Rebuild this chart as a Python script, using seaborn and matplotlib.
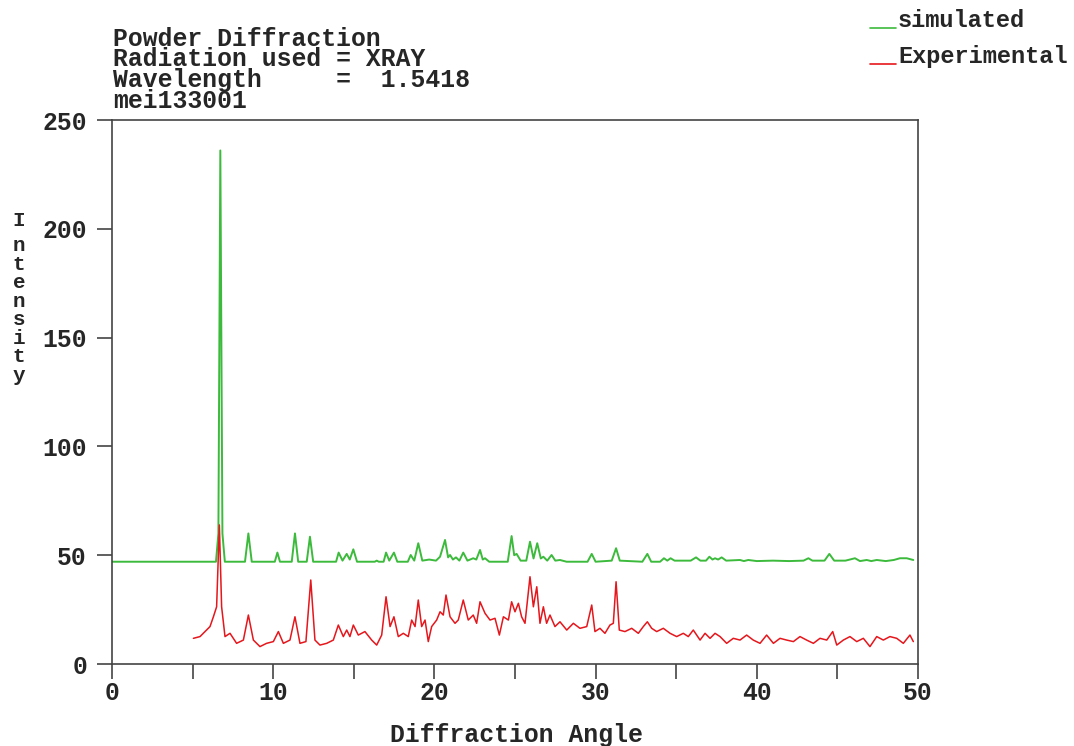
import matplotlib
matplotlib.use('Agg')
import matplotlib.pyplot as plt
from matplotlib.lines import Line2D
from matplotlib.ticker import MultipleLocator
import pandas as pd
import seaborn as sns

# simulated pattern (vertices)
sim_angle = [0.0, 6.45, 6.6, 6.72, 6.85, 7.0,
             8.25, 8.46, 8.67, 10.1, 10.26, 10.42,
             11.15, 11.35, 11.55, 12.08, 12.28, 12.48,
             13.9, 14.06, 14.3, 14.56, 14.75, 14.97, 15.2,
             16.3, 16.42, 16.55, 16.85, 17.0, 17.2, 17.49, 17.7,
             18.35, 18.53, 18.75, 19.0, 19.25, 19.68, 20.1, 20.35, 20.66, 20.85, 20.97,
             21.15, 21.34, 21.55, 21.79, 22.05, 22.41, 22.6, 22.83, 23.0, 23.14, 23.4,
             24.55, 24.79, 24.95, 25.1, 25.35, 25.7, 25.93, 26.15, 26.38, 26.6, 26.76,
             27.0, 27.27, 27.5, 27.79, 28.2,
             29.5, 29.76, 30.0, 31.0, 31.27, 31.5,
             32.9, 33.21, 33.45, 34.0, 34.24, 34.45, 34.65, 34.9,
             35.9, 36.23, 36.5, 36.85, 37.06, 37.25, 37.41, 37.6, 37.82, 38.1,
             38.96, 39.2, 39.47, 40.0, 41.0, 42.0, 42.9, 43.2, 43.45,
             44.2, 44.5, 44.8, 45.5, 46.09, 46.4, 46.82, 47.1, 47.44,
             48.0, 48.5, 48.88, 49.3, 49.71]
sim_intensity = [47.0, 47.0, 60.0, 236.0, 60.0, 47.0,
                 47.0, 60.0, 47.0, 47.0, 51.2, 47.0,
                 47.0, 60.0, 47.0, 47.0, 58.5, 47.0,
                 47.0, 51.2, 47.5, 50.6, 48.0, 52.7, 47.0,
                 47.0, 47.5, 47.0, 47.0, 51.2, 47.5, 51.2, 47.0,
                 47.0, 50.1, 47.5, 55.5, 47.5, 48.0, 47.5, 49.3, 57.0, 49.0, 50.1,
                 48.0, 49.0, 47.5, 51.2, 47.5, 48.6, 48.0, 52.4, 48.0, 48.6, 47.0,
                 47.0, 58.8, 50.0, 50.6, 47.5, 47.5, 56.2, 48.5, 55.5, 48.5, 49.3,
                 47.5, 50.1, 47.5, 47.8, 47.0,
                 47.0, 50.6, 47.0, 47.5, 53.2, 47.5,
                 47.0, 50.6, 47.0, 47.0, 48.6, 47.5, 48.6, 47.5,
                 47.5, 49.0, 47.5, 47.5, 49.3, 48.0, 48.6, 48.0, 49.0, 47.5,
                 47.8, 47.3, 47.8, 47.3, 47.5, 47.3, 47.5, 48.6, 47.5,
                 47.5, 50.6, 47.5, 47.5, 48.6, 47.3, 47.8, 47.3, 47.8,
                 47.3, 47.8, 48.6, 48.6, 47.8]

# experimental pattern
exp_angle = [5.05, 5.46, 5.77, 6.08, 6.29, 6.49, 6.66, 6.8, 7.01, 7.32, 7.73, 8.15,
             8.46, 8.77, 9.18, 9.59, 10.01, 10.32, 10.63, 11.04, 11.35, 11.66, 12.03,
             12.33, 12.59, 12.9, 13.32, 13.73, 14.04, 14.35, 14.56, 14.76, 14.97, 15.28,
             15.69, 16.11, 16.42, 16.73, 17.0, 17.25, 17.49, 17.76, 18.07, 18.38, 18.59,
             18.8, 19.0, 19.21, 19.42, 19.62, 19.83, 20.14, 20.35, 20.55, 20.72, 20.97,
             21.28, 21.48, 21.79, 22.1, 22.41, 22.62, 22.83, 23.14, 23.45, 23.76, 24.03,
             24.28, 24.59, 24.79, 25.0, 25.21, 25.41, 25.62, 25.93, 26.14, 26.35, 26.55,
             26.76, 26.96, 27.17, 27.48, 27.79, 28.21, 28.62, 29.03, 29.45, 29.76, 29.96,
             30.27, 30.58, 30.89, 31.1, 31.27, 31.47, 31.82, 32.24, 32.65, 32.96, 33.21,
             33.48, 33.79, 34.2, 34.62, 35.03, 35.44, 35.75, 36.06, 36.48, 36.79, 37.1,
             37.41, 37.72, 38.13, 38.54, 38.96, 39.37, 39.78, 40.2, 40.61, 41.03, 41.44,
             41.85, 42.27, 42.68, 43.09, 43.51, 43.92, 44.34, 44.71, 44.96, 45.37, 45.78,
             46.2, 46.61, 47.02, 47.44, 47.85, 48.26, 48.68, 49.09, 49.5, 49.71]
exp_intensity = [11.8, 12.6, 14.9, 17.2, 21.7, 26.3, 63.9, 26.3, 12.6, 14.1, 9.5, 11.0,
                 22.5, 11.0, 8.0, 9.5, 10.3, 14.9, 9.5, 11.0, 21.7, 9.5, 10.3,
                 38.6, 11.0, 8.7, 9.5, 11.0, 17.9, 12.6, 15.6, 12.6, 17.9, 13.3,
                 14.9, 11.0, 8.7, 13.3, 30.9, 17.2, 21.7, 12.6, 14.1, 12.6, 20.2,
                 17.2, 29.4, 17.2, 20.2, 10.3, 17.2, 20.2, 24.0, 22.5, 31.7, 21.7,
                 18.7, 20.2, 29.4, 20.2, 22.5, 18.7, 28.6, 23.3, 20.2, 21.0, 13.3,
                 21.7, 20.2, 28.6, 24.0, 27.9, 21.7, 18.7, 40.1, 26.3, 35.5, 18.7,
                 26.3, 18.7, 22.5, 17.2, 19.4, 15.6, 18.7, 16.4, 17.2, 27.1, 14.9,
                 16.4, 14.1, 17.9, 18.7, 37.8, 15.6, 14.9, 16.4, 14.1, 17.2, 19.4,
                 16.4, 14.9, 16.4, 14.1, 12.6, 14.1, 12.6, 15.6, 11.0, 14.1, 11.8,
                 14.1, 12.6, 9.5, 11.8, 11.0, 13.3, 11.0, 9.5, 13.3, 9.5, 11.8,
                 11.0, 10.3, 12.6, 11.0, 9.5, 11.8, 11.0, 14.9, 8.7, 11.0, 12.6,
                 10.3, 11.8, 8.0, 12.6, 11.0, 12.6, 11.8, 9.5, 13.3, 10.3]

header_lines = ['Powder Diffraction', 'Radiation used = XRAY',
                'Wavelength     =  1.5418', 'mei133001']
series_names = ['simulated', 'Experimental']
series_colors = ['#3cba3c', '#e5161c']
y_title = 'Intensity'

sns.set_style('ticks')
plt.rcParams['font.family'] = ['Liberation Mono', 'DejaVu Sans Mono']
plt.rcParams['font.weight'] = 'bold'
fs = 17.8

W, H = 1074, 746
fig = plt.figure(figsize=(W / 100, H / 100), dpi=100)
ax = fig.add_axes([112 / W, 1 - 664 / H, 806 / W, 544 / H])

sim = pd.DataFrame({'angle': sim_angle, 'intensity': sim_intensity})
exp = pd.DataFrame({'angle': exp_angle, 'intensity': exp_intensity})
sns.lineplot(data=sim, x='angle', y='intensity', color=series_colors[0],
             lw=1.4, estimator=None, sort=False, ax=ax)
sns.lineplot(data=exp, x='angle', y='intensity', color=series_colors[1],
             lw=1.1, estimator=None, sort=False, ax=ax)

ax.set_xlim(0, 50)
ax.set_ylim(0, 250)
ax.xaxis.set_major_locator(MultipleLocator(10))
ax.xaxis.set_minor_locator(MultipleLocator(5))
ax.yaxis.set_major_locator(MultipleLocator(50))
ax.tick_params(which='both', direction='out', length=11, width=1.2, color='#444')
ax.tick_params(axis='x', pad=1, labelsize=fs)
ax.tick_params(axis='y', pad=7, labelsize=fs)
ax.set_xlabel('')
ax.set_ylabel('')
for s in ax.spines.values():
    s.set_color('#444')
    s.set_linewidth(1.2)

# header block (one text, last line baseline placed)
fig.text(113 / W, 1 - 108 / H, '\n'.join(header_lines), fontsize=fs,
         fontweight='bold', va='baseline', ha='left', linespacing=0.83)

# legend with short coloured underscores
for i, (name, col) in enumerate(zip(series_names, series_colors)):
    yb = 27 + 36 * i
    fig.add_artist(Line2D([870 / W, 896 / W], [1 - (yb + 1) / H] * 2,
                          color=col, lw=1.2))
    fig.text(898 / W, 1 - yb / H, name, fontsize=17, fontweight='bold',
             va='baseline', ha='left')

# x label and stacked y label
fig.text(516 / W, 1 - 742 / H, 'Diffraction Angle', fontsize=fs,
         fontweight='bold', ha='center', va='baseline')
fig.text(19 / W, 1 - 226 / H, y_title[0], fontsize=15, fontweight='bold',
         ha='center', va='baseline')
fig.text(19 / W, 1 - 381 / H, '\n'.join(y_title[1:]), fontsize=15,
         fontweight='bold', ha='center', va='baseline', linespacing=0.97)

fig.savefig('out.png', dpi=100)
